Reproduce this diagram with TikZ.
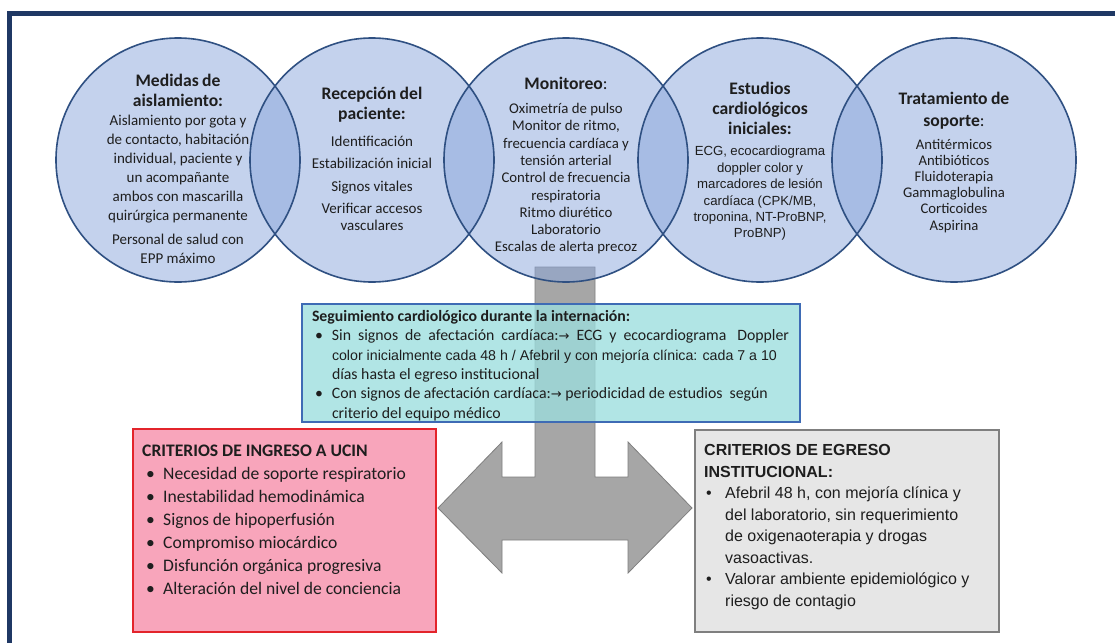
\documentclass[tikz,border=0pt]{standalone}
\usepackage{fontspec}
\setmainfont{Carlito}
\newfontfamily\arial{Liberation Sans}
\newfontfamily\dejavu{DejaVu Sans}
\definecolor{navy}{RGB}{31,56,100}
\definecolor{circfillc}{RGB}{139,167,221}
\definecolor{circline}{RGB}{47,80,130}
\definecolor{tealc}{RGB}{156,222,222}
\definecolor{midline}{RGB}{62,107,181}
\definecolor{pinkc}{RGB}{248,165,187}
\definecolor{redline}{RGB}{227,36,43}
\definecolor{greyfill}{RGB}{230,230,230}
\definecolor{greyline}{RGB}{127,127,127}
\definecolor{arrowfill}{RGB}{166,166,166}
\definecolor{txt}{RGB}{30,30,30}
\newcommand{\arr}{{\dejavu\fontsize{13}{13}\selectfont →}}
\newcommand{\tfont}{\bfseries\fontsize{17.6}{20}\selectfont}
\newcommand{\wgap}{\hspace{7pt}}
\tikzset{
  circfill/.style={fill=circfillc, fill opacity=0.5},
  circ/.style={circle, draw=circline, line width=1.6pt, minimum size=244pt, inner sep=0pt},
  ctext/.style={anchor=north, text width=215pt, align=center, inner sep=0pt, text=txt},
  midbox/.style={draw=midline, line width=1.3pt, fill=tealc, fill opacity=0.78, text opacity=1,
     minimum width=498pt, minimum height=118pt, inner xsep=10pt, inner ysep=0pt, text=txt},
  redbox/.style={draw=redline, fill=pinkc, line width=1.5pt, minimum width=303pt, minimum height=203pt, anchor=north west},
  greybox/.style={draw=greyline, fill=greyfill, line width=1.5pt, minimum width=304pt, minimum height=202pt, anchor=north west},
  btext/.style={anchor=north west, inner sep=0pt, text=txt},
  arrowshape/.style={fill=arrowfill, draw=greyline, line width=0.8pt},
  frameline/.style={draw=navy, line width=5pt}
}
\begin{document}
\begin{tikzpicture}[x=1pt,y=-1pt]
\useasboundingbox (0,0) rectangle (1115,642);
\fill[white] (0,0) rectangle (1115,642);
% frame
\draw[frameline] (9.5,645) -- (9.5,14) -- (1118,14);
% big arrow
\draw[arrowshape] (535,267) -- (595,267) -- (595,477) -- (628,477) -- (628,442) -- (692,508)
  -- (628,573) -- (628,540) -- (502,540) -- (502,573) -- (438,508) -- (502,442) -- (502,477)
  -- (535,477) -- cycle;
% circle fills
\foreach \cx in {178,372,566,760,954} {\fill[circfill] (\cx,160) circle[radius=122];}
% circle outlines
\node[circ] (c1) at (178,160) {};
\node[circ] (c2) at (372,160) {};
\node[circ] (c3) at (566,160) {};
\node[circ] (c4) at (760,160) {};
\node[circ] (c5) at (954,160) {};
% circle texts
\node[ctext] (t1) at (178,73.5) {{\tfont Medidas de\\aislamiento:\par}
  {\fontsize{15}{19}\selectfont Aislamiento por gota y\\de contacto, habitación\\individual, paciente y\\un acompañante\\ambos con mascarilla\\quirúrgica permanente\par}
  \vspace{5pt}
  {\fontsize{15}{19}\selectfont Personal de salud con\\EPP máximo\par}};
\node[ctext] (t2) at (372,87) {{\tfont Recepción del\\paciente:\par}
  \vspace{8.5pt}
  {\fontsize{15}{18}\selectfont Identificación\par}\vspace{4.5pt}
  {\fontsize{15}{18}\selectfont Estabilización inicial\par}\vspace{4.5pt}
  {\fontsize{15}{18}\selectfont Signos vitales\par}\vspace{4.5pt}
  {\fontsize{15}{17.5}\selectfont Verificar accesos\\vasculares\par}};
\node[ctext] (t3) at (566,77) {{\tfont Monitoreo\mdseries:\par}
  \vspace{6.7pt}
  {\fontsize{14.8}{17.3}\selectfont Oximetría de pulso\\Monitor de ritmo,\\frecuencia cardíaca y\\tensión arterial\\Control de frecuencia\\respiratoria\\Ritmo diurético\\Laboratorio\\Escalas de alerta precoz\par}};
\node[ctext] (t4) at (760,82) {{\tfont Estudios\\cardiológicos\\iniciales:\par}
  \vspace{5pt}
  {\arial\fontsize{13.2}{16.4}\selectfont ECG, ecocardiograma\\doppler color y\\marcadores de lesión\\cardíaca (CPK/MB,\\troponina, NT-ProBNP,\\ProBNP)\par}};
\node[ctext] (t5) at (954,91.5) {{\bfseries\fontsize{17.6}{22}\selectfont Tratamiento de\\soporte\mdseries:\par}
  \vspace{6.8pt}
  {\fontsize{14.7}{16.2}\selectfont Antitérmicos\\Antibióticos\\Fluidoterapia\\Gammaglobulina\\Corticoides\\Aspirina\par}};
% middle box
\node[midbox] (mid) at (551,363) {\parbox{478pt}{\vspace*{5pt}\fontsize{15.8}{19.3}\selectfont
  {\bfseries Seguimiento cardiológico durante la internación:}\par
  \noindent\makebox[20pt][l]{\hspace{3pt}•}Sin\wgap signos\wgap de\wgap afectación\wgap cardíaca:\arr\wgap ECG\wgap y\wgap ecocardiograma\hspace{11pt}Doppler\par
  \noindent\hspace*{20pt}\mbox{\arial\fontsize{14.2}{19.3}\selectfont color inicialmente cada 48 h / Afebril y con mejoría clínica: cada 7 a 10}\par
  \noindent\hspace*{20pt}\mbox{días hasta el egreso institucional}\par
  \noindent\makebox[20pt][l]{\hspace{3pt}•}\mbox{Con signos de afectación cardíaca:\arr\ periodicidad de estudios\ \ según}\par
  \noindent\hspace*{20pt}\mbox{criterio del equipo médico}\par}};
% red box
\node[redbox] (ucin) at (132,428) {};
\node[btext] (ucintxt) at (142,444.5) {\parbox[t]{285pt}{\fontsize{17.6}{23}\selectfont
  {\bfseries CRITERIOS DE INGRESO A UCIN}\\
  \makebox[21pt][l]{\hspace{4pt}•}Necesidad de soporte respiratorio\\
  \makebox[21pt][l]{\hspace{4pt}•}Inestabilidad hemodinámica\\
  \makebox[21pt][l]{\hspace{4pt}•}Signos de hipoperfusión\\
  \makebox[21pt][l]{\hspace{4pt}•}Compromiso miocárdico\\
  \makebox[21pt][l]{\hspace{4pt}•}Disfunción orgánica progresiva\\
  \makebox[21pt][l]{\hspace{4pt}•}Alteración del nivel de conciencia}};
% grey box
\node[greybox] (egreso) at (694,429) {};
\node[btext] (egresotxt) at (704,444.5) {\parbox[t]{285pt}{\arial\fontsize{16}{21.5}\selectfont
  {\bfseries CRITERIOS DE EGRESO}\\
  {\bfseries INSTITUCIONAL:}\\
  \makebox[21pt][l]{\hspace{2pt}•}Afebril 48 h, con mejoría clínica y\\
  \hspace*{21pt}del laboratorio, sin requerimiento\\
  \hspace*{21pt}de oxigenaoterapia y drogas\\
  \hspace*{21pt}vasoactivas.\\
  \makebox[21pt][l]{\hspace{2pt}•}Valorar ambiente epidemiológico y\\
  \hspace*{21pt}riesgo de contagio}};
\end{tikzpicture}
\end{document}
